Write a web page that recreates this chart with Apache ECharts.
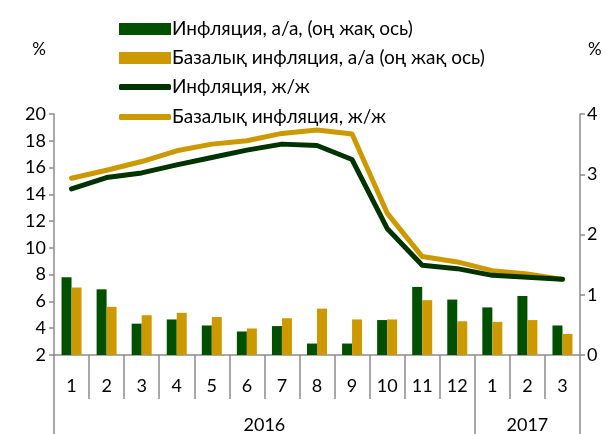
<!DOCTYPE html>
<html><head><meta charset="utf-8">
<script src="https://cdn.jsdelivr.net/npm/echarts@6/dist/echarts.min.js"></script>
<style>html,body{margin:0;padding:0;background:#fff}#c{width:607px;height:434px}</style>
</head><body><div id="c"></div>
<script>
var months = ['1','2','3','4','5','6','7','8','9','10','11','12','1','2','3'];
var years = ['2016','2017'];
var yearSpans = [12, 3];
var infMoM = [1.29,1.09,0.52,0.59,0.49,0.39,0.48,0.19,0.19,0.58,1.13,0.92,0.79,0.98,0.49];
var coreMoM = [1.12,0.80,0.66,0.70,0.63,0.44,0.61,0.77,0.59,0.59,0.91,0.56,0.55,0.58,0.35];
var infYoY = [14.4,15.25,15.6,16.2,16.75,17.3,17.75,17.65,16.6,11.45,8.7,8.45,7.95,7.8,7.65];
var coreYoY = [15.2,15.8,16.45,17.25,17.75,18.0,18.55,18.8,18.5,12.6,9.35,8.95,8.3,8.05,7.65];
var names = ['Инфляция, а/а, (оң жақ ось)','Базалық инфляция, а/а (оң жақ ось)','Инфляция, ж/ж','Базалық инфляция, ж/ж'];

var FONT = 'Lato, "Noto Sans", sans-serif';
var GREEN = '#005000', GOLD = '#CC9900', DARK = '#003300', GOLDL = '#CC9900';
var AX = '#8c8c8c';

var yb = [0], yc = [];
yearSpans.forEach(function(s, i){ yc.push(yb[i] + s/2); yb.push(yb[i] + s); });

var rowCenters = [24, 53, 82, 112];
var legends = names.map(function(n, i){
  var isBar = i < 2;
  return {
    orient: 'vertical', left: 114, top: rowCenters[i] - 12, height: 24,
    itemWidth: 52, itemHeight: isBar ? 12 : 6,
    icon: isBar ? 'rect' : 'roundRect',
    data: [n],
    textStyle: {fontFamily: FONT, fontSize: 19, color: '#000', padding: [0,0,0,-4], lineHeight: 24}
  };
});

var chart = echarts.init(document.getElementById('c'));
chart.setOption({
  animation: false,
  textStyle: {fontFamily: FONT},
  grid: {left: 54, right: 27, top: 114, bottom: 79, containLabel: false},
  legend: legends,
  xAxis: [{
    type: 'category', data: months, boundaryGap: true,
    axisLine: {lineStyle: {color: AX, width: 1.5}},
    axisTick: {show: true, interval: 0, length: 44, lineStyle: {color: AX, width: 1.5}},
    axisLabel: {interval: 0, margin: 22, fontSize: 18, color: '#000', fontFamily: FONT}
  }, {
    type: 'value', min: 0, max: yb[yb.length-1], position: 'bottom',
    axisLine: {show: false}, splitLine: {show: false},
    axisTick: {show: true, customValues: yb, length: 80, lineStyle: {color: AX, width: 1.5}},
    axisLabel: {customValues: yc, margin: 61, fontSize: 18, color: '#000', fontFamily: FONT,
      formatter: function(v){ var i = yc.indexOf(v); return i >= 0 ? years[i] : ''; }}
  }],
  yAxis: [{
    type: 'value', min: 2, max: 20, interval: 2, position: 'left',
    name: '%', nameLocation: 'end', nameGap: 56,
    nameTextStyle: {fontSize: 17, color: '#000', fontFamily: FONT, align: 'right', padding: [0, 8, 0, 0]},
    axisLine: {show: true, lineStyle: {color: AX, width: 1.5}},
    axisTick: {show: true, length: 5, lineStyle: {color: AX, width: 1.5}},
    axisLabel: {fontSize: 18, color: '#000', margin: 8, fontFamily: FONT},
    splitLine: {show: false}
  }, {
    type: 'value', min: 0, max: 4, interval: 1, position: 'right',
    name: '%', nameLocation: 'end', nameGap: 56,
    nameTextStyle: {fontSize: 17, color: '#000', fontFamily: FONT, align: 'left', padding: [0, 0, 0, 8]},
    axisLine: {show: true, lineStyle: {color: AX, width: 1.5}},
    axisTick: {show: true, length: 5, lineStyle: {color: AX, width: 1.5}},
    axisLabel: {fontSize: 18, color: '#000', margin: 7, fontFamily: FONT},
    splitLine: {show: false}
  }],
  series: [{
    name: names[0], type: 'bar', yAxisIndex: 1, data: infMoM, barWidth: 10, barGap: '0%',
    itemStyle: {color: GREEN}
  }, {
    name: names[1], type: 'bar', yAxisIndex: 1, data: coreMoM, barWidth: 10, barGap: '0%',
    itemStyle: {color: GOLD}
  }, {
    name: names[2], type: 'line', yAxisIndex: 0, data: infYoY, symbol: 'none', z: 5,
    lineStyle: {color: DARK, width: 5, cap: 'round', join: 'round'}, itemStyle: {color: DARK}
  }, {
    name: names[3], type: 'line', yAxisIndex: 0, data: coreYoY, symbol: 'none', z: 4,
    lineStyle: {color: GOLDL, width: 5, cap: 'round', join: 'round'}, itemStyle: {color: GOLDL}
  }]
});
</script></body></html>
